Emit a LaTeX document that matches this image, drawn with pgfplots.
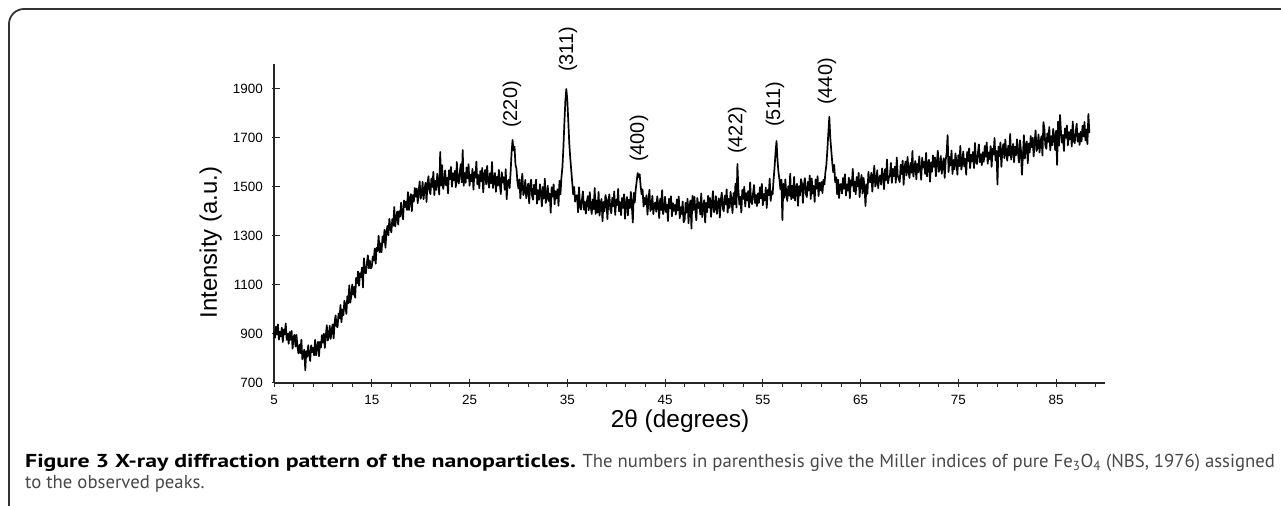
\documentclass[border=0pt]{standalone}
\usepackage{fontspec}
\setmainfont{Liberation Sans}
\newfontfamily\capfont{PT Sans}[BoldFeatures={FakeStretch=1.27}]
\usepackage{pgfplots}
\pgfplotsset{compat=1.18}
\definecolor{capgray}{RGB}{72,72,72}
\definecolor{framegray}{RGB}{50,50,50}
\begin{document}
\begin{tikzpicture}[x=1bp,y=1bp]
\useasboundingbox (0,0) rectangle (1281,506);
\draw[line width=1.8bp, framegray, rounded corners=15bp] (9,-30) -- (9,497) -- (1320,497);
\begin{axis}[
  at={(274bp,123bp)}, anchor=south west,
  scale only axis, width=831bp, height=318.5bp,
  xmin=5, xmax=90, ymin=700, ymax=2000,
  clip=false,
  axis x line*=bottom, axis y line*=left,
  axis line style={line width=1.3bp, black!85},
  xtick={5,15,...,85}, minor xtick={7,9,...,89},
  ytick={700,900,...,1900},
  tick align=center,
  major tick length=8bp, minor tick length=4bp,
  tick style={line width=1bp, black!85},
  every minor x tick/.append style={yshift=-2bp},
  every major y tick/.append style={xshift=2bp},
  ticklabel style={font=\fontsize{13.5}{16}\selectfont, inner sep=0pt},
  /pgf/number format/assume math mode=true,
  /pgf/number format/1000 sep={},
  xticklabel shift=8bp, yticklabel shift=7bp,
  xlabel={2θ (degrees)}, ylabel={Intensity (a.u.)},
  xlabel style={at={(axis description cs:0.4886,-0.1413)}, anchor=base, font=\fontsize{24.5}{28}\selectfont},
  ylabel style={at={(axis description cs:-0.0686,0.441)}, anchor=base, font=\fontsize{24}{28}\selectfont},
]
\addplot[black, line width=1.7bp, line join=round] coordinates {
(5.0,913) (5.1,885) (5.2,930) (5.3,898) (5.4,939) (5.5,877) (5.6,909) (5.7,890) (5.8,926) (5.9,867)
(6.0,918) (6.1,898) (6.2,943) (6.3,876) (6.4,901) (6.5,860) (6.6,908) (6.7,876) (6.8,913) (6.9,840)
(7.0,887) (7.1,897) (7.2,849) (7.3,896) (7.4,848) (7.5,821) (7.6,856) (7.7,822) (7.8,877) (7.9,797)
(8.0,815) (8.1,836) (8.2,752) (8.3,830) (8.4,807) (8.5,854) (8.6,816) (8.7,790) (8.8,854) (8.9,826)
(9.0,844) (9.1,813) (9.2,876) (9.3,813) (9.4,850) (9.5,868) (9.6,809) (9.7,868) (9.8,845) (9.9,895)
(10.0,865) (10.1,901) (10.2,843) (10.3,893) (10.4,936) (10.5,873) (10.6,889) (10.7,934) (10.8,880) (10.9,917)
(11.0,939) (11.1,882) (11.2,947) (11.3,976) (11.4,932) (11.5,928) (11.6,984) (11.7,963) (11.8,1018) (11.9,948)
(12.0,1000) (12.1,977) (12.2,1036) (12.3,1017) (12.4,982) (12.5,1054) (12.6,1025) (12.7,1099) (12.8,1028) (12.9,1054)
(13.0,1102) (13.1,1060) (13.2,1092) (13.3,1048) (13.4,1129) (13.5,1107) (13.6,1155) (13.7,1097) (13.8,1148) (13.9,1132)
(14.0,1171) (14.1,1090) (14.2,1209) (14.3,1152) (14.4,1148) (14.5,1189) (14.6,1221) (14.7,1168) (14.8,1199) (14.9,1168)
(15.0,1173) (15.1,1216) (15.2,1200) (15.3,1249) (15.4,1187) (15.5,1252) (15.6,1240) (15.7,1301) (15.8,1233) (15.9,1270)
(16.0,1234) (16.1,1298) (16.2,1273) (16.3,1325) (16.4,1252) (16.5,1316) (16.6,1341) (16.7,1303) (16.8,1370) (16.9,1332)
(17.0,1315) (17.1,1369) (17.2,1342) (17.3,1418) (17.4,1339) (17.5,1373) (17.6,1400) (17.7,1346) (17.8,1401) (17.9,1379)
(18.0,1436) (18.1,1395) (18.2,1368) (18.3,1445) (18.4,1418) (18.5,1441) (18.6,1406) (18.7,1479) (18.8,1406) (18.9,1450)
(19.0,1471) (19.1,1401) (19.2,1467) (19.3,1440) (19.4,1496) (19.5,1460) (19.6,1494) (19.7,1434) (19.8,1482) (19.9,1523)
(20.0,1452) (20.1,1469) (20.2,1521) (20.3,1450) (20.4,1492) (20.5,1517) (20.6,1439) (20.7,1514) (20.8,1544) (20.9,1483)
(21.0,1471) (21.1,1535) (21.2,1500) (21.3,1562) (21.4,1467) (21.5,1525) (21.6,1488) (21.7,1554) (21.8,1521) (21.9,1469)
(22.0,1643) (22.1,1506) (22.2,1589) (22.3,1492) (22.4,1516) (22.5,1568) (22.6,1507) (22.7,1538) (22.8,1474) (22.9,1568)
(23.0,1531) (23.1,1582) (23.2,1501) (23.3,1556) (23.4,1527) (23.5,1566) (23.6,1499) (23.7,1602) (23.8,1525) (23.9,1514)
(24.0,1559) (24.1,1593) (24.2,1519) (24.3,1651) (24.4,1505) (24.5,1557) (24.6,1517) (24.7,1580) (24.8,1535) (24.9,1593)
(25.0,1505) (25.1,1550) (25.2,1523) (25.3,1574) (25.4,1489) (25.5,1561) (25.6,1538) (25.7,1604) (25.8,1511) (25.9,1549)
(26.0,1495) (26.1,1565) (26.2,1524) (26.3,1578) (26.4,1478) (26.5,1547) (26.6,1570) (26.7,1511) (26.8,1586) (26.9,1527)
(27.0,1497) (27.1,1556) (27.2,1515) (27.3,1602) (27.4,1496) (27.5,1530) (27.6,1557) (27.7,1480) (27.8,1542) (27.9,1506)
(28.0,1570) (28.1,1512) (28.2,1471) (28.3,1560) (28.4,1518) (28.5,1540) (28.6,1489) (28.7,1573) (28.8,1450) (28.9,1522)
(29.0,1530) (29.1,1495) (29.2,1560) (29.3,1640) (29.4,1692) (29.5,1650) (29.6,1665) (29.7,1590) (29.8,1575) (29.9,1520)
(30.0,1494) (30.1,1531) (30.2,1453) (30.3,1507) (30.4,1554) (30.5,1467) (30.6,1480) (30.7,1529) (30.8,1454) (30.9,1491)
(31.0,1514) (31.1,1433) (31.2,1503) (31.3,1530) (31.4,1464) (31.5,1448) (31.6,1509) (31.7,1471) (31.8,1530) (31.9,1432)
(32.0,1487) (32.1,1448) (32.2,1511) (32.3,1476) (32.4,1421) (32.5,1500) (32.6,1453) (32.7,1534) (32.8,1435) (32.9,1456)
(33.0,1505) (33.1,1443) (33.2,1473) (33.3,1395) (33.4,1499) (33.5,1461) (33.6,1511) (33.7,1429) (33.8,1483) (33.9,1453)
(34.0,1491) (34.1,1423) (34.2,1525) (34.3,1470) (34.4,1540) (34.5,1580) (34.6,1660) (34.7,1760) (34.8,1850) (34.9,1900)
(35.0,1855) (35.1,1770) (35.2,1680) (35.3,1620) (35.4,1570) (35.5,1520) (35.6,1470) (35.7,1500) (35.8,1440) (35.9,1465)
(36.0,1466) (36.1,1397) (36.2,1499) (36.3,1421) (36.4,1408) (36.5,1449) (36.6,1482) (36.7,1407) (36.8,1439) (36.9,1391)
(37.0,1440) (37.1,1463) (37.2,1405) (37.3,1479) (37.4,1420) (37.5,1390) (37.6,1449) (37.7,1409) (37.8,1496) (37.9,1390)
(38.0,1445) (38.1,1395) (38.2,1480) (38.3,1383) (38.4,1431) (38.5,1451) (38.6,1360) (38.7,1439) (38.8,1401) (38.9,1467)
(39.0,1449) (39.1,1369) (39.2,1441) (39.3,1470) (39.4,1407) (39.5,1393) (39.6,1456) (39.7,1421) (39.8,1482) (39.9,1386)
(40.0,1448) (40.1,1425) (40.2,1492) (40.3,1400) (40.4,1438) (40.5,1385) (40.6,1455) (40.7,1415) (40.8,1470) (40.9,1370)
(41.0,1430) (41.1,1459) (41.2,1384) (41.3,1448) (41.4,1414) (41.5,1480) (41.6,1424) (41.7,1355) (41.8,1476) (41.9,1437)
(42.0,1490) (42.1,1525) (42.2,1557) (42.3,1540) (42.4,1552) (42.5,1505) (42.6,1470) (42.7,1490) (42.8,1420) (42.9,1455)
(43.0,1429) (43.1,1466) (43.2,1387) (43.3,1442) (43.4,1489) (43.5,1402) (43.6,1415) (43.7,1464) (43.8,1389) (43.9,1428)
(44.0,1437) (44.1,1399) (44.2,1462) (44.3,1428) (44.4,1373) (44.5,1452) (44.6,1406) (44.7,1487) (44.8,1389) (44.9,1410)
(45.0,1460) (45.1,1398) (45.2,1428) (45.3,1361) (45.4,1452) (45.5,1413) (45.6,1462) (45.7,1380) (45.8,1434) (45.9,1403)
(46.0,1427) (46.1,1387) (46.2,1449) (46.3,1404) (46.4,1461) (46.5,1372) (46.6,1417) (46.7,1390) (46.8,1441) (46.9,1356)
(47.0,1365) (47.1,1435) (47.2,1395) (47.3,1452) (47.4,1352) (47.5,1422) (47.6,1445) (47.7,1330) (47.8,1464) (47.9,1406)
(48.0,1460) (48.1,1403) (48.2,1364) (48.3,1455) (48.4,1414) (48.5,1437) (48.6,1388) (48.7,1474) (48.8,1377) (48.9,1426)
(49.0,1446) (49.1,1355) (49.2,1435) (49.3,1397) (49.4,1464) (49.5,1416) (49.6,1455) (49.7,1378) (49.8,1434) (49.9,1483)
(50.0,1397) (50.1,1412) (50.2,1463) (50.3,1390) (50.4,1431) (50.5,1454) (50.6,1375) (50.7,1448) (50.8,1477) (50.9,1414)
(51.0,1401) (51.1,1464) (51.2,1429) (51.3,1490) (51.4,1395) (51.5,1452) (51.6,1415) (51.7,1480) (51.8,1443) (51.9,1394)
(52.0,1475) (52.1,1430) (52.2,1513) (52.3,1416) (52.4,1594) (52.5,1490) (52.6,1428) (52.7,1460) (52.8,1396) (52.9,1488)
(53.0,1451) (53.1,1501) (53.2,1420) (53.3,1475) (53.4,1445) (53.5,1483) (53.6,1416) (53.7,1519) (53.8,1441) (53.9,1430)
(54.0,1474) (54.1,1508) (54.2,1435) (54.3,1467) (54.4,1422) (54.5,1474) (54.6,1435) (54.7,1499) (54.8,1454) (54.9,1513)
(55.0,1425) (55.1,1471) (55.2,1445) (55.3,1498) (55.4,1414) (55.5,1488) (55.6,1466) (55.7,1534) (55.8,1443) (55.9,1482)
(56.0,1470) (56.1,1530) (56.2,1580) (56.3,1640) (56.4,1688) (56.5,1610) (56.6,1560) (56.7,1530) (56.8,1490) (56.9,1530)
(57.0,1365) (57.1,1513) (57.2,1456) (57.3,1531) (57.4,1473) (57.5,1443) (57.6,1503) (57.7,1464) (57.8,1554) (57.9,1450)
(58.0,1505) (58.1,1455) (58.2,1541) (58.3,1444) (58.4,1493) (58.5,1513) (58.6,1423) (58.7,1503) (58.8,1465) (58.9,1532)
(59.0,1514) (59.1,1435) (59.2,1507) (59.3,1536) (59.4,1472) (59.5,1459) (59.6,1521) (59.7,1486) (59.8,1547) (59.9,1451)
(60.0,1535) (60.1,1473) (60.2,1504) (60.3,1439) (60.4,1531) (60.5,1493) (60.6,1544) (60.7,1463) (60.8,1517) (60.9,1487)
(61.0,1520) (61.1,1475) (61.2,1530) (61.3,1510) (61.4,1560) (61.5,1590) (61.6,1650) (61.7,1720) (61.8,1786) (61.9,1700)
(62.0,1650) (62.1,1600) (62.2,1560) (62.3,1590) (62.4,1520) (62.5,1540) (62.6,1470) (62.7,1530) (62.8,1455) (62.9,1510)
(63.0,1512) (63.1,1473) (63.2,1537) (63.3,1493) (63.4,1552) (63.5,1465) (63.6,1511) (63.7,1485) (63.8,1538) (63.9,1454)
(64.0,1528) (64.1,1506) (64.2,1574) (64.3,1483) (64.4,1522) (64.5,1470) (64.6,1541) (64.7,1502) (64.8,1558) (64.9,1459)
(65.0,1520) (65.1,1549) (65.2,1473) (65.3,1537) (65.4,1502) (65.5,1422) (65.6,1511) (65.7,1472) (65.8,1562) (65.9,1522)
(66.0,1519) (66.1,1558) (66.2,1481) (66.3,1538) (66.4,1587) (66.5,1502) (66.6,1517) (66.7,1568) (66.8,1495) (66.9,1536)
(67.0,1547) (67.1,1510) (67.2,1576) (67.3,1544) (67.4,1491) (67.5,1573) (67.6,1528) (67.7,1612) (67.8,1515) (67.9,1539)
(68.0,1546) (68.1,1598) (68.2,1517) (68.3,1574) (68.4,1544) (68.5,1583) (68.6,1517) (68.7,1620) (68.8,1544) (68.9,1534)
(69.0,1520) (69.1,1591) (69.2,1552) (69.3,1608) (69.4,1509) (69.5,1580) (69.6,1604) (69.7,1547) (69.8,1623) (69.9,1566)
(70.0,1537) (70.1,1598) (70.2,1558) (70.3,1647) (70.4,1542) (70.5,1578) (70.6,1606) (70.7,1531) (70.8,1594) (70.9,1560)
(71.0,1625) (71.1,1569) (71.2,1529) (71.3,1620) (71.4,1579) (71.5,1603) (71.6,1553) (71.7,1639) (71.8,1543) (71.9,1591)
(72.0,1611) (72.1,1521) (72.2,1600) (72.3,1562) (72.4,1629) (72.5,1582) (72.6,1621) (72.7,1543) (72.8,1600) (72.9,1648)
(73.0,1562) (73.1,1576) (73.2,1627) (73.3,1554) (73.4,1594) (73.5,1617) (73.6,1537) (73.7,1609) (73.8,1638) (73.9,1712)
(74.0,1561) (74.1,1623) (74.2,1588) (74.3,1649) (74.4,1553) (74.5,1610) (74.6,1572) (74.7,1637) (74.8,1604) (74.9,1550)
(75.0,1630) (75.1,1585) (75.2,1668) (75.3,1571) (75.4,1594) (75.5,1645) (75.6,1584) (75.7,1615) (75.8,1550) (75.9,1643)
(76.0,1606) (76.1,1658) (76.2,1577) (76.3,1632) (76.4,1604) (76.5,1643) (76.6,1577) (76.7,1680) (76.8,1604) (76.9,1594)
(77.0,1639) (77.1,1674) (77.2,1601) (77.3,1634) (77.4,1589) (77.5,1642) (77.6,1603) (77.7,1667) (77.8,1623) (77.9,1682)
(78.0,1595) (78.1,1641) (78.2,1614) (78.3,1667) (78.4,1582) (78.5,1656) (78.6,1633) (78.7,1700) (78.8,1609) (78.9,1647)
(79.0,1510) (79.1,1665) (79.2,1626) (79.3,1682) (79.4,1582) (79.5,1652) (79.6,1675) (79.7,1618) (79.8,1694) (79.9,1637)
(80.0,1607) (80.1,1668) (80.2,1628) (80.3,1717) (80.4,1612) (80.5,1647) (80.6,1676) (80.7,1601) (80.8,1664) (80.9,1630)
(81.0,1695) (81.1,1639) (81.2,1600) (81.3,1691) (81.4,1651) (81.5,1550) (81.6,1626) (81.7,1712) (81.8,1616) (81.9,1665)
(82.0,1686) (82.1,1597) (82.2,1677) (82.3,1641) (82.4,1708) (82.5,1662) (82.6,1701) (82.7,1625) (82.8,1682) (82.9,1731)
(83.0,1647) (83.1,1662) (83.2,1714) (83.3,1641) (83.4,1683) (83.5,1707) (83.6,1628) (83.7,1765) (83.8,1737) (83.9,1668)
(84.0,1656) (84.1,1719) (84.2,1684) (84.3,1745) (84.4,1650) (84.5,1707) (84.6,1670) (84.7,1737) (84.8,1704) (84.9,1651)
(85.0,1730) (85.1,1590) (85.2,1767) (85.3,1669) (85.4,1794) (85.5,1722) (85.6,1681) (85.7,1712) (85.8,1647) (85.9,1739)
(86.0,1701) (86.1,1751) (86.2,1670) (86.3,1724) (86.4,1694) (86.5,1733) (86.6,1665) (86.7,1767) (86.8,1690) (86.9,1679)
(87.0,1724) (87.1,1758) (87.2,1685) (87.3,1718) (87.4,1672) (87.5,1725) (87.6,1686) (87.7,1750) (87.8,1706) (87.9,1765)
(88.0,1690) (88.1,1735) (88.2,1675) (88.3,1798) (88.4,1720)
};
\begin{scope}[every node/.style={rotate=90, anchor=west, inner sep=0pt, font=\fontsize{20}{24}\selectfont}]
\node at (axis cs:29.35,1741) {(220)};
\node at (axis cs:35.08,1969) {(311)};
\node at (axis cs:42.34,1602) {(400)};
\node at (axis cs:52.37,1635) {(422)};
\node at (axis cs:56.25,1745) {(511)};
\node at (axis cs:61.57,1835) {(440)};
\end{scope}
\end{axis}
\node[anchor=base west, inner sep=0pt, font=\capfont\fontsize{18.8}{23}\selectfont] at (25,38.5)
  {\textbf{Figure 3 X-ray diffraction pattern of the nanoparticles.} \textcolor{capgray}{The numbers in parenthesis give the Miller indices of pure Fe\textsubscript{3}O\textsubscript{4} (NBS, 1976) assigned}};
\node[anchor=base west, inner sep=0pt, font=\capfont\fontsize{18.8}{23}\selectfont, text=capgray] at (25,17)
  {to the observed peaks.};
\end{tikzpicture}
\end{document}
